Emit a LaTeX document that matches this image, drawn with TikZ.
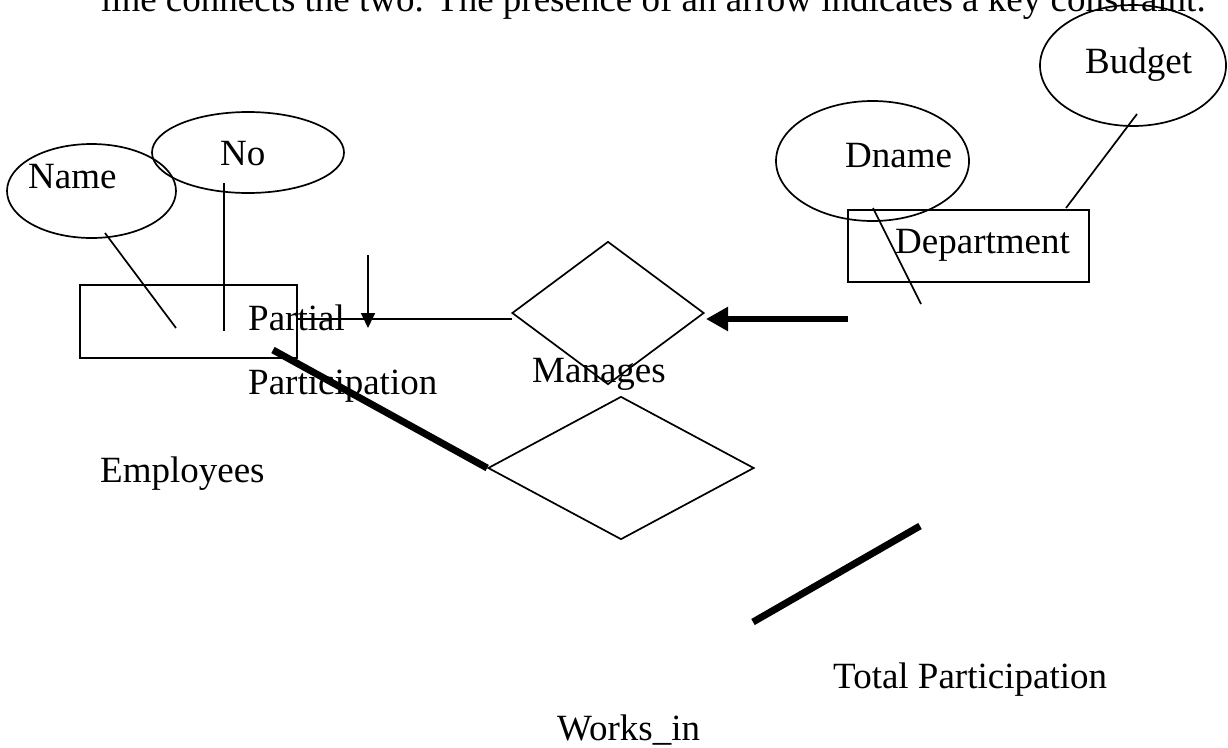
\documentclass[tikz,border=0pt]{standalone}
\usepackage{fontspec}
\setmainfont{Liberation Serif}
\usetikzlibrary{shapes.geometric,arrows.meta}

\tikzset{
  txt/.style={anchor=base west, inner sep=0pt, font=\fontsize{37}{44}\selectfont},
  attr/.style={draw, ellipse, line width=1.7pt, inner sep=0pt},
  entity/.style={draw, rectangle, line width=1.7pt, inner sep=0pt},
  rel/.style={draw, diamond, line width=1.7pt, inner sep=0pt},
  thin/.style={line width=1.7pt},
  heavy/.style={line width=7pt},
}

\begin{document}
\begin{tikzpicture}[x=1pt, y=-1pt]
  \path[use as bounding box] (0,0) rectangle (1228,747);
  \clip (0,0) rectangle (1228,747);

  % running text above the diagram
  \node[txt] (caption) at (101,11) {line connects the two. The presence of an arrow indicates a key constraint.};

  % Employees entity and its attributes
  \node[attr, minimum width=169pt, minimum height=94pt] (nameE) at (91.5,191) {};
  \node[txt] (nameT) at (28,188) {Name};
  \node[attr, minimum width=192pt, minimum height=81pt] (noE) at (248,152.5) {};
  \node[txt] (noT) at (220,165) {No};
  \node[entity, minimum width=217pt, minimum height=73pt] (emp) at (188.5,321.5) {};
  \node[txt] (empT) at (100,482) {Employees};
  \node[txt] (partialT) at (248,330) {Partial};
  \node[txt] (partT) at (248,394) {Participation};

  \coordinate (nameA) at (105,233);
  \coordinate (nameB) at (176,328);
  \draw[thin] (nameA) -- (nameB);
  \coordinate (noA) at (224,183);
  \coordinate (noB) at (224,331);
  \draw[thin] (noA) -- (noB);

  % Department entity and its attributes
  \node[attr, minimum width=193pt, minimum height=120pt] (dnameE) at (872.5,161) {};
  \node[txt] (dnameT) at (845,167) {Dname};
  \node[attr, minimum width=186pt, minimum height=121pt] (budgetE) at (1133,65.5) {};
  \node[txt] (budgetT) at (1085,73) {Budget};
  \node[entity, minimum width=241pt, minimum height=72pt] (dept) at (968.5,246) {};
  \node[txt] (deptT) at (895,253) {Department};

  \coordinate (dnA) at (873,208);
  \coordinate (dnB) at (921,304);
  \draw[thin] (dnA) -- (dnB);
  \coordinate (bgA) at (1137,114);
  \coordinate (bgB) at (1066,208);
  \draw[thin] (bgA) -- (bgB);

  % relationships
  \node[rel, minimum width=192pt, minimum height=143pt] (manages) at (608,313) {};
  \node[txt] (managesT) at (532,382) {Manages};
  \node[rel, minimum width=266pt, minimum height=143pt] (works) at (621,468) {};
  \node[txt] (worksT) at (557,740) {Works\_in};
  \node[txt] (totalT) at (833,688) {Total Participation};

  % Employees -- Manages (partial participation)
  \coordinate (mgL) at (512,319);
  \draw[thin] (emp.east |- mgL) -- (mgL);
  \coordinate (dnTop) at (368,255);
  \coordinate (dnTip) at (368,328);
  \draw[thin, -{Triangle[length=15pt, width=14pt]}] (dnTop) -- (dnTip);

  % Department -> Manages (key constraint)
  \coordinate (keyStart) at (848,319);
  \coordinate (keyTip) at (706,319);
  \draw[line width=6.5pt, -{Triangle[length=22pt, width=23pt]}] (keyStart) -- (keyTip);

  % Employees == Works_in (total participation)
  \coordinate (wkA) at (273,350);
  \draw[heavy] (wkA) -- (works.west);

  % Department == Works_in (total participation)
  \coordinate (tpA) at (753,622);
  \coordinate (tpB) at (920,526);
  \draw[heavy] (tpA) -- (tpB);
\end{tikzpicture}
\end{document}
